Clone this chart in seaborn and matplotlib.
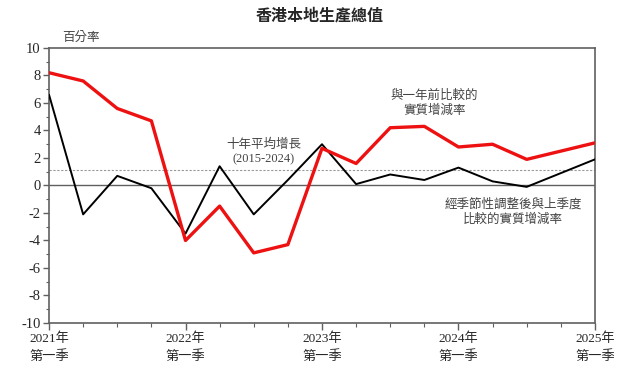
import matplotlib
matplotlib.use("Agg")
import matplotlib.pyplot as plt
from matplotlib.ticker import MultipleLocator, FixedLocator
import seaborn as sns
import pandas as pd
import numpy as np

quarters = ["2021Q1", "2021Q2", "2021Q3", "2021Q4",
            "2022Q1", "2022Q2", "2022Q3", "2022Q4",
            "2023Q1", "2023Q2", "2023Q3", "2023Q4",
            "2024Q1", "2024Q2", "2024Q3", "2024Q4",
            "2025Q1"]
yoy = [8.2, 7.6, 5.6, 4.7, -4.0, -1.5, -4.9, -4.3,
       2.7, 1.6, 4.2, 4.3, 2.8, 3.0, 1.9, 2.5, 3.1]
qoq = [6.6, -2.1, 0.7, -0.2, -3.5, 1.4, -2.1, 0.4,
       3.0, 0.1, 0.8, 0.4, 1.3, 0.3, -0.1, 0.9, 1.9]
ten_year_avg = 1.1
year_tick_labels = ["2021年\n第一季", "2022年\n第一季", "2023年\n第一季",
                    "2024年\n第一季", "2025年\n第一季"]

sns.set_style("white")
plt.rcParams['font.family'] = ['Liberation Serif', 'Noto Sans CJK TC', 'DejaVu Sans']
plt.rcParams['axes.unicode_minus'] = False

df = pd.DataFrame({"idx": np.arange(len(quarters)), "q": quarters,
                   "yoy": yoy, "qoq": qoq})

fig = plt.figure(figsize=(6.4, 3.66), dpi=100)
ax = fig.add_axes([0.0766, 0.1175, 0.853, 0.7514])

ax.axhline(0, color="#606060", lw=1.0, zorder=1)
ax.axhline(ten_year_avg, color="#999999", lw=0.8, ls=(0, (2, 1.5)), zorder=1)

sns.lineplot(data=df, x="idx", y="qoq", ax=ax, color="black", lw=1.4, zorder=3)
sns.lineplot(data=df, x="idx", y="yoy", ax=ax, color="#ee1111", lw=2.4, zorder=4)

ax.set_xlim(0, len(quarters) - 1)
ax.set_ylim(-10, 10)
ax.yaxis.set_major_locator(MultipleLocator(2))
ax.yaxis.set_minor_locator(MultipleLocator(1))
ax.xaxis.set_major_locator(FixedLocator([0, 4, 8, 12, 16]))
ax.xaxis.set_minor_locator(FixedLocator(list(range(len(quarters)))))
ax.set_xticklabels(year_tick_labels)
ax.set_xlabel("")
ax.set_ylabel("")

for s in ax.spines.values():
    s.set_color("#606060")
    s.set_linewidth(1.2)

ax.tick_params(axis="y", which="major", direction="out", length=4, width=1,
               color="#606060", labelsize=10.5, pad=2, left=True)
ax.tick_params(axis="y", which="minor", direction="out", length=2.5, width=0.8,
               color="#606060", left=True)
ax.tick_params(axis="x", which="major", direction="out", length=5, width=1,
               color="#606060", labelsize=9.5, pad=2, bottom=True)
ax.tick_params(axis="x", which="minor", direction="out", length=3, width=0.8,
               color="#606060", bottom=True)
for lab in ax.get_xticklabels():
    lab.set_linespacing(1.45)

fig.text(0.5, 0.958, "香港本地生產總值", ha="center", va="center",
         fontsize=11.5, fontweight="bold",
         family=['Noto Sans CJK TC', 'DejaVu Sans'])
fig.text(0.097, 0.897, "百分率", ha="left", va="center", fontsize=9,
         color="#444444", family=['Noto Sans CJK TC', 'DejaVu Sans'])

ax.text(6.3, 2.45, "十年平均增長\n(2015-2024)", ha="center", va="center",
        fontsize=9, color="#444444", linespacing=1.3)
ax.text(11.3, 6.0, "與一年前比較的\n實質增減率", ha="center", va="center",
        fontsize=9, color="#444444", linespacing=1.3)
ax.text(13.6, -1.95, "經季節性調整後與上季度\n比較的實質增減率", ha="center", va="center",
        fontsize=9, color="#444444", linespacing=1.3)

fig.savefig("out.png", dpi=100)
